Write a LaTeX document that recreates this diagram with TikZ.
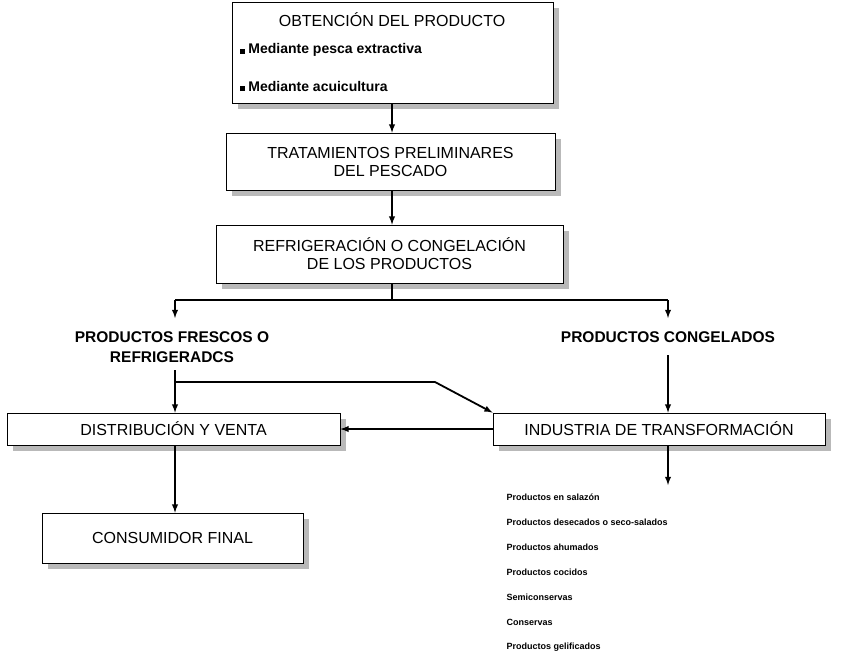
\documentclass[tikz,border=0pt]{standalone}
\usepackage{fontspec}
\setmainfont{Liberation Sans}
\begin{document}
\begin{tikzpicture}[x=1pt,y=-1pt,
  box/.style={draw=black,line width=0.8pt,fill=white},
  shad/.style={fill=gray!55},
  ln/.style={line width=1.8pt},
  ar/.style={line width=1.8pt,-latex},
  bt/.style={font=\fontsize{16}{18}\selectfont,align=center},
  lb/.style={font=\bfseries\fontsize{15.5}{20}\selectfont,align=center},
  li/.style={font=\bfseries\fontsize{9}{10}\selectfont,anchor=west}]
\useasboundingbox (0,0) rectangle (850,659);
% shadows
\foreach \a/\b/\c/\d in {232/2/553/103,226/133/555/190,216/225/563/283,7/413/340/445,493/413/825/445,42/513/303/563}
  \fill[shad] (\a+6,\b+6) rectangle (\c+6,\d+6);
\draw[box] (232,2) rectangle (553,103);
\node[bt] (b1) at (392,20) {OBTENCIÓN DEL PRODUCTO};
\node[font=\bfseries\fontsize{14}{16}\selectfont,anchor=west] (i1) at (236,50) {\rule{5pt}{5pt} Mediante pesca extractiva};
\node[font=\bfseries\fontsize{14}{16}\selectfont,anchor=west] (i2) at (236,86) {\rule{5pt}{5pt} Mediante acuicultura};
\coordinate (b1s) at (392,103);
\node[box,bt,minimum width=329pt,minimum height=57pt] (b2) at (390.5,161.5) {TRATAMIENTOS PRELIMINARES\\DEL PESCADO};
\node[box,bt,minimum width=347pt,minimum height=58pt] (b3) at (389.5,254) {REFRIGERACIÓN O CONGELACIÓN\\DE LOS PRODUCTOS};
\draw[ar] (b1s) -- (b2.north -| b1s);
\draw[ar] (b2.south -| b1s) -- (b3.north -| b1s);
\coordinate (j) at (392,300);
\coordinate (jl) at (175,300);
\coordinate (jr) at (668,300);
\draw[ln] (b3.south -| j) -- (j);
\draw[ln] (jl) -- (jr);
\node[lb] (fr) at (172,347) {PRODUCTOS FRESCOS O\\REFRIGERADCS};
\node[lb] (co) at (668,337) {PRODUCTOS CONGELADOS};
\draw[ar] (jl) -- (175,318);
\draw[ar] (jr) -- (668,318);
\node[box,bt,minimum width=333pt,minimum height=32pt] (dv) at (173.5,429) {DISTRIBUCIÓN Y VENTA};
\node[box,bt,minimum width=332pt,minimum height=32pt] (it) at (659,429) {INDUSTRIA DE TRANSFORMACIÓN};
\node[box,bt,minimum width=261pt,minimum height=50pt] (cf) at (172.5,538) {CONSUMIDOR FINAL};
\coordinate (k) at (175,382);
\coordinate (k2) at (435,382);
\draw[ar] (175,370) -- (dv.north -| k);
\draw[ar] (k) -- (k2) -- (it.north west);
\draw[ar] (668,355) -- (it.north -| jr);
\draw[ar] (it.west) -- (dv.east);
\draw[ar] (dv.south -| k) -- (cf.north -| k);
\coordinate (ld) at (668,485);
\draw[ar] (it.south -| ld) -- (ld);
\node[li] (l1) at (503,497) {Productos en salazón};
\node[li] (l2) at (503,522) {Productos desecados o seco-salados};
\node[li] (l3) at (503,547) {Productos ahumados};
\node[li] (l4) at (503,572) {Productos cocidos};
\node[li] (l5) at (503,597) {Semiconservas};
\node[li] (l6) at (503,622) {Conservas};
\node[li] (l7) at (503,647) {Productos gelificados};
\end{tikzpicture}
\end{document}
